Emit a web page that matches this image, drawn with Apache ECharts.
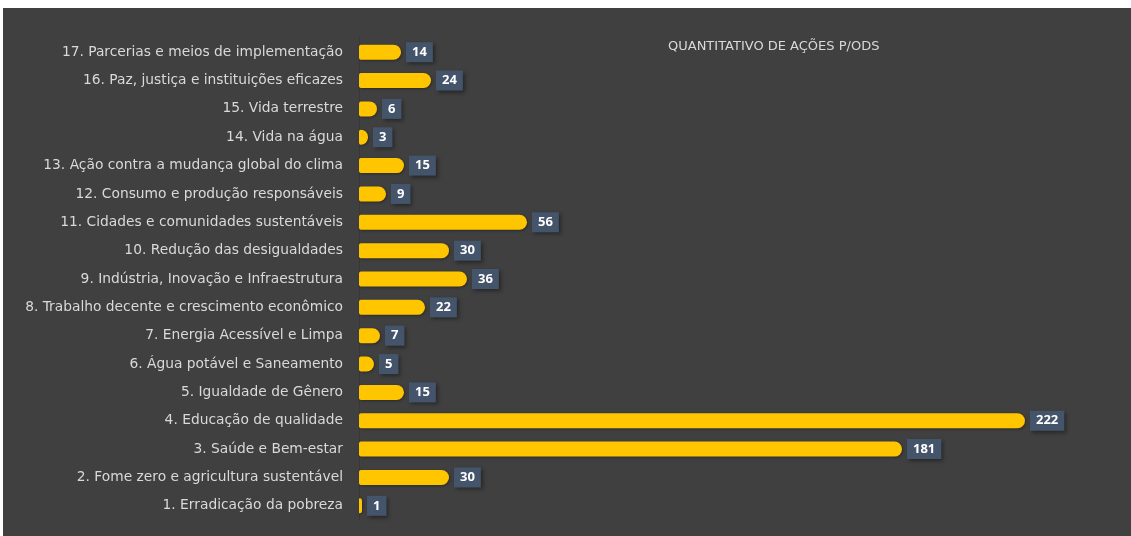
<!DOCTYPE html>
<html>
<head>
<meta charset="utf-8">
<script src="https://cdn.jsdelivr.net/npm/echarts@6/dist/echarts.min.js"></script>
<style>
html,body{margin:0;padding:0;background:#ffffff;}
#chart{width:1131px;height:536px;}
</style>
</head>
<body>
<div id="chart"></div>
<script>
const categories = [
  "1. Erradicação da pobreza",
  "2. Fome zero e agricultura sustentável",
  "3. Saúde e Bem-estar",
  "4. Educação de qualidade",
  "5. Igualdade de Gênero",
  "6. Água potável e Saneamento",
  "7. Energia Acessível e Limpa",
  "8. Trabalho decente e crescimento econômico",
  "9. Indústria, Inovação e Infraestrutura",
  "10. Redução das desigualdades",
  "11. Cidades e comunidades sustentáveis",
  "12. Consumo e produção responsáveis",
  "13. Ação contra a mudança global do clima",
  "14. Vida na água",
  "15. Vida terrestre",
  "16. Paz, justiça e instituições eficazes",
  "17. Parcerias e meios de implementação"
];
const values = [1, 30, 181, 222, 15, 5, 7, 22, 36, 30, 56, 9, 15, 3, 6, 24, 14];
const titleText = "QUANTITATIVO DE AÇÕES P/ODS";

const chart = echarts.init(document.getElementById('chart'), null, {renderer: 'canvas'});
chart.setOption({
  backgroundColor: '#404040',
  animation: false,
  graphic: [
    {type: 'rect', left: 0, top: 0, shape: {width: 1131, height: 8}, style: {fill: '#ffffff'}, z: 100},
    {type: 'rect', left: 0, top: 0, shape: {width: 3, height: 536}, style: {fill: '#ffffff'}, z: 100}
  ],
  title: {
    text: titleText,
    left: 663,
    top: 35,
    textStyle: {color: '#d9d9d9', fontSize: 13, fontWeight: 'normal', fontFamily: 'DejaVu Sans'}
  },
  grid: {left: 359, right: 22, top: 38, bottom: 16, containLabel: false},
  xAxis: {
    type: 'value', min: 0, max: 250,
    show: false
  },
  yAxis: {
    type: 'category',
    data: categories,
    axisLine: {show: true, lineStyle: {color: '#383838', width: 1}},
    axisTick: {show: false},
    axisLabel: {color: '#d9d9d9', fontSize: 13.8, fontFamily: 'DejaVu Sans', margin: 16}
  },
  series: [{
    type: 'bar',
    data: values,
    barWidth: 15,
    itemStyle: {
      color: '#FFC600',
      borderRadius: [2, 8, 8, 2],
      shadowColor: 'rgba(0,0,0,0.35)', shadowBlur: 3, shadowOffsetX: 1, shadowOffsetY: 1
    },
    label: {
      show: true,
      position: 'right',
      distance: 5,
      color: '#ffffff',
      fontWeight: 'bold',
      fontSize: 13,
      fontFamily: 'Open Sans',
      backgroundColor: '#44546A',
      padding: [4, 6, 3, 6],
      shadowColor: 'rgba(0,0,0,0.4)', shadowBlur: 4, shadowOffsetX: 2, shadowOffsetY: 2
    }
  }]
});
</script>
</body>
</html>
